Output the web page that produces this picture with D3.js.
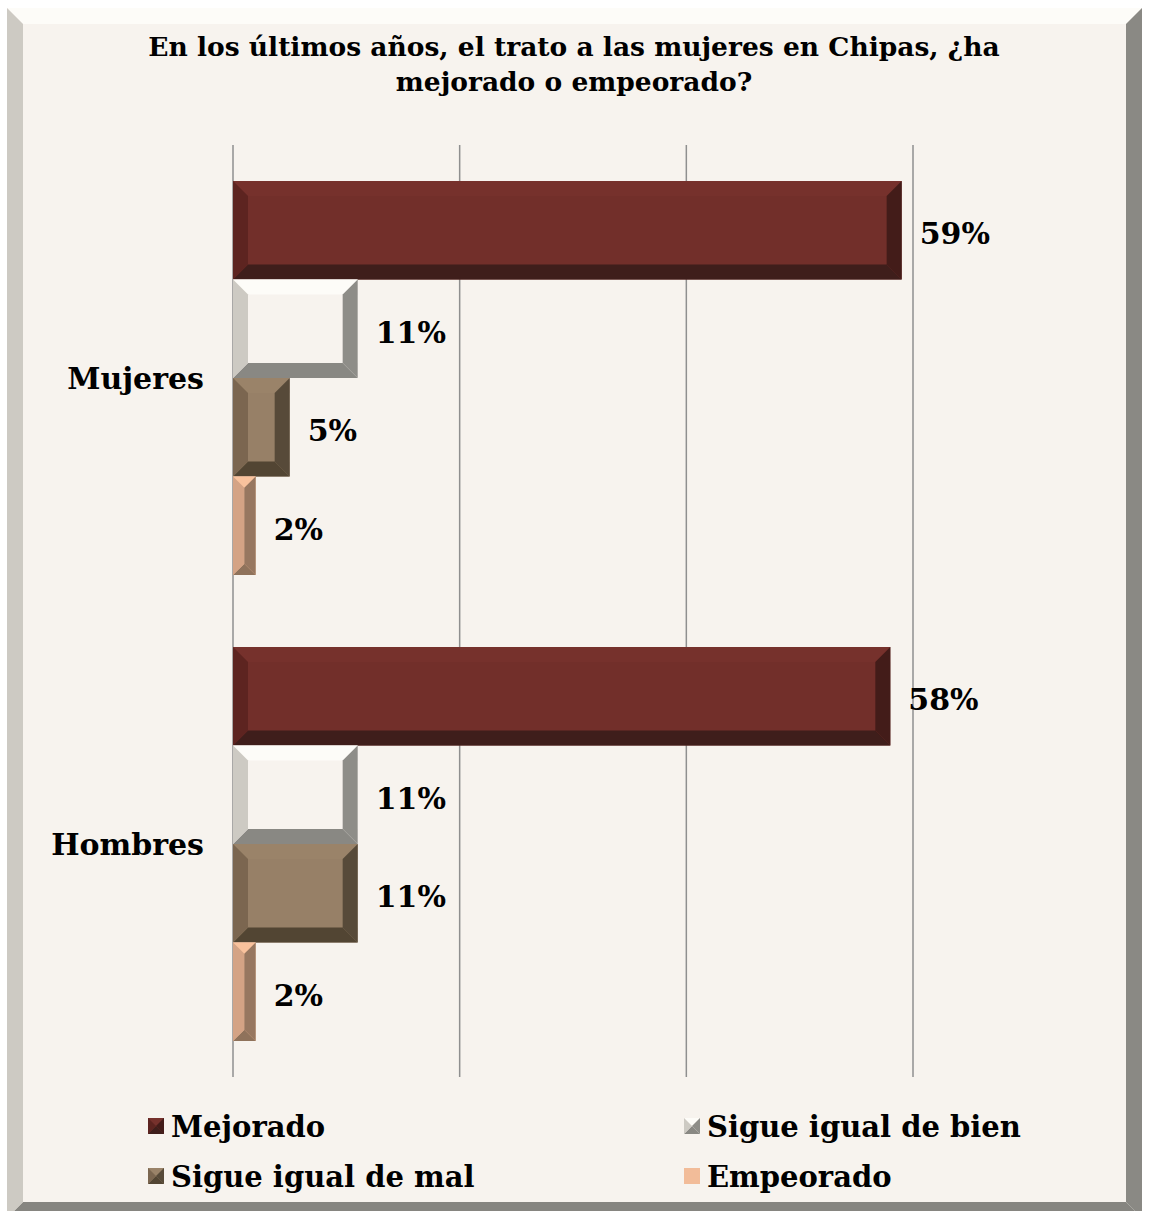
<!DOCTYPE html>
<html>
<head>
<meta charset="utf-8">
<script src="https://cdn.jsdelivr.net/npm/d3@7"></script>
<style>
  body { margin: 0; background: #ffffff; }
  text { font-family: "DejaVu Serif", serif; font-weight: bold; fill: #000; }
</style>
</head>
<body>
<svg id="chart" width="1149" height="1211"></svg>
<script>
// data
const categories = ["Mujeres", "Hombres"];
const seriesNames = ["Mejorado", "Sigue igual de bien", "Sigue igual de mal", "Empeorado"];
const mejorado = [59, 58];
const igualBien = [11, 11];
const igualMal = [5, 11];
const empeorado = [2, 2];
const xTicks = [0, 20, 40, 60];
const titleLines = ["En los últimos años, el trato a las mujeres en Chipas, ¿ha", "mejorado o empeorado?"];

// bevel colours per series: face, top, left, right, bottom
const palette = {
    "Mejorado": { face: "#722f2a", top: "#76312c", left: "#5d2420", right: "#431c19", bottom: "#3f1e1b" },
    "Sigue igual de bien": { face: "#f7f3ee", top: "#fdfcf8", left: "#cdcac3", right: "#8e8d88", bottom: "#898883" },
    "Sigue igual de mal": { face: "#978067", top: "#9a8369", left: "#7b6650", right: "#574a39", bottom: "#524533" },
    "Empeorado": { face: "#f2bc99", top: "#f9c29d", left: "#d4a385", right: "#977760", bottom: "#8f725b" }
};

const values = {
    "Mejorado": mejorado,
    "Sigue igual de bien": igualBien,
    "Sigue igual de mal": igualMal,
    "Empeorado": empeorado
};

const svg = d3.select("#chart");

// beveled box, used for frame, bars and legend keys
function bevelBox(g, x, y, w, h, c, size) {
    const b = Math.min(size, w / 2, h / 2);
    const pts = {
        top: [[x, y], [x + w, y], [x + w - b, y + b], [x + b, y + b]],
        bottom: [[x, y + h], [x + w, y + h], [x + w - b, y + h - b], [x + b, y + h - b]],
        left: [[x, y], [x + b, y + b], [x + b, y + h - b], [x, y + h]],
        right: [[x + w, y], [x + w - b, y + b], [x + w - b, y + h - b], [x + w, y + h]]
    };
    g.append("rect")
        .attr("x", x).attr("y", y).attr("width", w).attr("height", h)
        .attr("fill", c.face);
    ["top", "bottom", "left", "right"].forEach(k => {
        g.append("polygon")
            .attr("points", pts[k].map(p => p.join(",")).join(" "))
            .attr("fill", c[k]);
    });
}

// outer frame
bevelBox(svg.append("g"), 7, 8, 1135, 1210,
    { face: "#f7f3ee", top: "#fdfcf8", left: "#cdcac3", right: "#8a8984", bottom: "#868580" }, 16);

// title
svg.append("g").selectAll("text")
    .data(titleLines)
    .enter().append("text")
    .attr("x", 574)
    .attr("y", (d, i) => 56 + i * 35)
    .attr("text-anchor", "middle")
    .style("font-size", "26.5px")
    .text(d => d);

const x = d3.scaleLinear().domain([0, 60]).range([233, 913]);
const y0 = d3.scaleBand().domain(categories).range([145, 1077]);
const gap = 36 / 466;
const y1 = d3.scaleBand().domain(seriesNames)
    .range([y0.bandwidth() * gap, y0.bandwidth() * (1 - gap)]);

// gridlines
svg.append("g").selectAll("line")
    .data(xTicks)
    .enter().append("line")
    .attr("x1", d => x(d)).attr("x2", d => x(d))
    .attr("y1", 145).attr("y2", 1077)
    .attr("stroke", "#8f8f8f")
    .attr("stroke-width", 1.5);

// bars
const bars = svg.append("g");
categories.forEach((cat, ci) => {
    seriesNames.forEach(s => {
        const v = values[s][ci];
        const by = y0(cat) + y1(s);
        const bh = y1.bandwidth();
        bevelBox(bars.append("g"), x(0), by, x(v) - x(0), bh, palette[s], 15);
        bars.append("text")
            .attr("x", x(v) + 18)
            .attr("y", by + bh / 2 + 14)
            .style("font-size", "30px")
            .text(v + "%");
    });
});

// category labels
svg.append("g").selectAll("text")
    .data(categories)
    .enter().append("text")
    .attr("x", 204)
    .attr("y", d => y0(d) + y0.bandwidth() / 2 + 11)
    .attr("text-anchor", "end")
    .style("font-size", "30px")
    .text(d => d);

// legend
const legendPos = [
    { x: 148, y: 1118 }, { x: 684, y: 1118 },
    { x: 148, y: 1168 }, { x: 684, y: 1168 }
];
seriesNames.forEach((s, i) => {
    const p = legendPos[i];
    const lg = svg.append("g");
    if (s === "Empeorado") {
        lg.append("rect").attr("x", p.x).attr("y", p.y).attr("width", 16).attr("height", 16)
            .attr("fill", palette[s].face);
    } else {
        bevelBox(lg, p.x, p.y, 16, 16, palette[s], 8);
    }
    lg.append("text")
        .attr("x", p.x + 23)
        .attr("y", p.y + 19)
        .style("font-size", "29px")
        .text(s);
});
</script>
</body>
</html>
